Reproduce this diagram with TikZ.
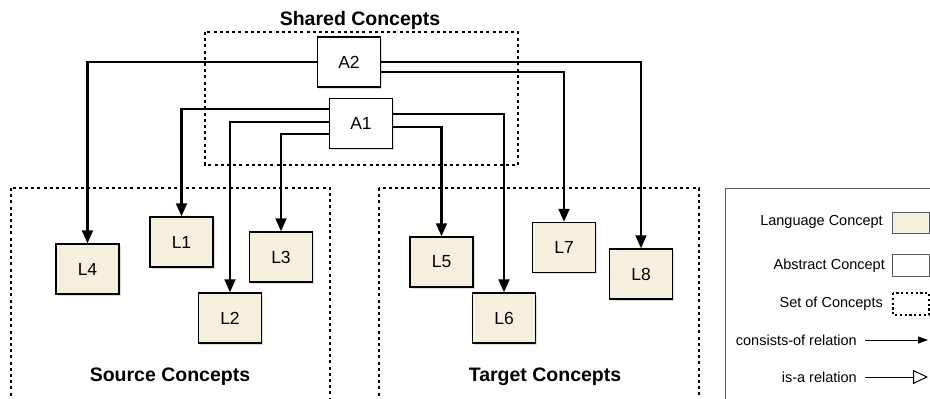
\documentclass[tikz,border=0pt]{standalone}
\usepackage{fontspec}
\setmainfont{Liberation Sans}
\usetikzlibrary{arrows.meta,shadows}
\definecolor{beige}{RGB}{246,239,224}
\definecolor{legline}{RGB}{90,90,90}
\tikzset{
  concept/.style={draw=black, line width=1.5pt, minimum width=63pt, minimum height=50pt,
    inner sep=0pt, font=\fontsize{17.5}{20}\selectfont,
    drop shadow={shadow xshift=1.6pt, shadow yshift=-1.8pt, fill=black!35, opacity=0.4}},
  lang/.style={concept, fill=beige},
  abstr/.style={concept, fill=white},
  setbox/.style={draw=black, line width=1.9pt, dash pattern=on 3pt off 3.2pt},
  rel/.style={line width=2.1pt, -{Triangle[length=13pt,width=11pt]}},
  title/.style={font=\fontsize{19.5}{22}\selectfont\bfseries},
  legtext/.style={font=\fontsize{14.5}{17}\selectfont, anchor=east, inner sep=0pt},
  legicon/.style={draw=legline, line width=1pt},
}
\begin{document}
\begin{tikzpicture}[x=1pt,y=-1pt]
\useasboundingbox (0,0) rectangle (930,399);
\clip (0,0) rectangle (930,399);
% sets of concepts
\draw[setbox] (205,32) rectangle (518,165);
\draw[setbox] (11,188) rectangle (330,420);
\draw[setbox] (379,188) rectangle (699,420);
\node[title] (tshared) at (360,20) {Shared Concepts};
\node[title] (tsource) at (170,377) {Source Concepts};
\node[title] (ttarget) at (545,377) {Target Concepts};
% abstract concepts
\node[abstr] (A2) at (349,62) {A2};
\node[abstr] (A1) at (361,123.5) {A1};
% language concepts
\node[lang] (L1) at (181.5,242) {L1};
\node[lang] (L2) at (230,318) {L2};
\node[lang] (L3) at (281,257) {L3};
\node[lang] (L4) at (87.5,269) {L4};
\node[lang] (L5) at (441.5,262) {L5};
\node[lang] (L6) at (504,318) {L6};
\node[lang] (L7) at (564,247.5) {L7};
\node[lang] (L8) at (641,274) {L8};
% consists-of relations
\draw[rel] (A2.west) -| (L4.north);
\draw[rel] (A2.east) -| (L8.north);
\draw[rel] ([yshift=-10pt]A2.east) -| (L7.north);
\draw[rel] ([yshift=14.5pt]A1.west) -| (L1.north);
\draw[rel] ([yshift=1.5pt]A1.west) -| (L2.north);
\draw[rel] ([yshift=-10.5pt]A1.west) -| (L3.north);
\draw[rel] ([yshift=9.5pt]A1.east) -| (L6.north);
\draw[rel] ([yshift=-3.5pt]A1.east) -| (L5.north);
% legend
\draw[legline, line width=1pt] (725.5,188) rectangle (960,420);
\node[legtext] (lg1) at (883,222) {Language Concept};
\node[legtext] (lg2) at (885,266) {Abstract Concept};
\node[legtext] (lg3) at (883,304) {Set of Concepts};
\node[legtext] (lg4) at (857,340) {consists-of relation};
\node[legtext] (lg5) at (857,377) {is-a relation};
\draw[legicon, fill=beige] (892,212) rectangle (929,233);
\draw[legicon, fill=white] (892,254.5) rectangle (929,276);
\draw[black, line width=1.3pt, dash pattern=on 2.2pt off 2.6pt] (893,293) rectangle (929,315);
\coordinate (c1s) at (865,340);
\coordinate (c1e) at (928,340);
\coordinate (c2s) at (865,377);
\coordinate (c2e) at (928,377);
\draw[line width=1pt, -{Triangle[length=10pt,width=7pt]}] (c1s) -- (c1e);
\draw[line width=1pt, -{Triangle[open,length=15pt,width=14pt,line width=1pt]}] (c2s) -- (c2e);
\end{tikzpicture}
\end{document}
